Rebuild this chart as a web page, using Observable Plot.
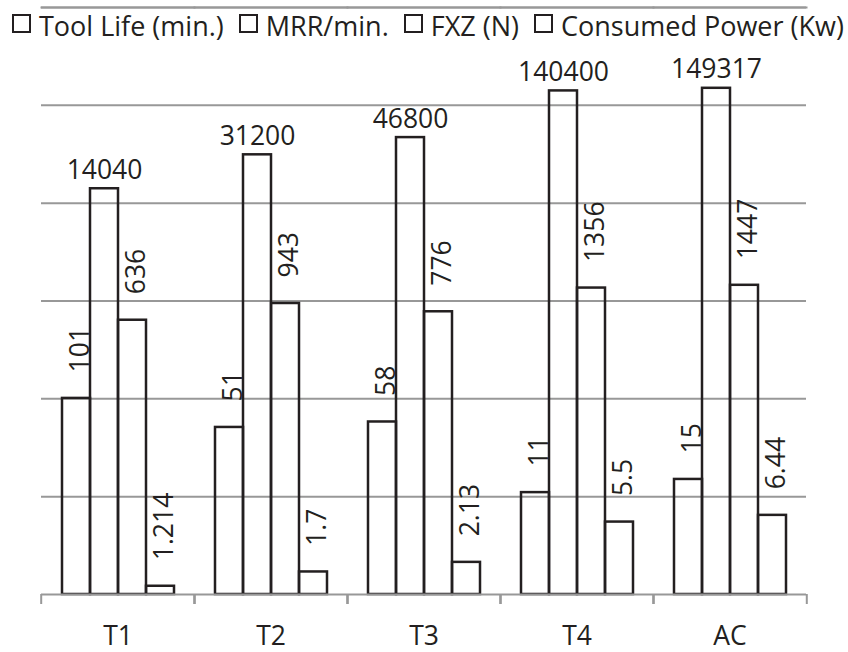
<!DOCTYPE html>
<html>
<head>
<meta charset="utf-8">
<script src="https://cdn.jsdelivr.net/npm/d3@7"></script>
<script src="https://cdn.jsdelivr.net/npm/@observablehq/plot@0.6"></script>
<style>
  html, body { margin: 0; padding: 0; background: #fff; }
  #wrap { position: relative; width: 848px; height: 652px; font-family: "Open Sans", sans-serif; color: #231f20; }
  #legend { position: absolute; left: 12px; top: 12px; display: flex; align-items: flex-start; gap: 15px; font-size: 27px; line-height: 27px; white-space: nowrap; z-index: 3; }
  .item { display: flex; align-items: flex-start; }
  .sw { width: 15px; height: 15px; border: 2.7px solid #231f20; margin-top: 2px; margin-right: 8px; }
  #chart { position: absolute; left: 0; top: 0; z-index: 1; }
</style>
</head>
<body>
<div id="wrap">
  <div id="chart"></div>
  <div id="legend"></div>
</div>
<script>
const categories = ["T1", "T2", "T3", "T4", "AC"];
const seriesNames = ["Tool Life (min.)", "MRR/min.", "FXZ (N)", "Consumed Power (Kw)"];
const toolLife = [101, 51, 58, 11, 15];
const mrr = [14040, 31200, 46800, 140400, 149317];
const fxz = [636, 943, 776, 1356, 1447];
const power = [1.214, 1.7, 2.13, 5.5, 6.44];
const powerLabels = ["1.214", "1.7", "2.13", "5.5", "6.44"];
const gridValues = [10, 100, 1000, 10000, 100000, 1000000];

const seriesValues = [toolLife, mrr, fxz, power];
const rows = [];
categories.forEach((c, i) => {
  seriesNames.forEach((s, j) => {
    const v = seriesValues[j][i];
    rows.push({cat: c, series: s, value: v, label: j === 3 ? powerLabels[i] : String(v)});
  });
});

const legendEl = document.getElementById("legend");
seriesNames.forEach(s => {
  const it = document.createElement("div");
  it.className = "item";
  const sw = document.createElement("div");
  sw.className = "sw";
  const tx = document.createElement("span");
  tx.textContent = s;
  it.appendChild(sw); it.appendChild(tx);
  legendEl.appendChild(it);
});

const W = 848, H = 652, ML = 39, MR = 41, MT = 7, MB = 58;
const bw = (W - ML - MR) / categories.length;
const ink = "#231f20", gray = "#989898";
const fs = 26.5;

const chart = Plot.plot({
  width: W, height: H,
  marginLeft: ML, marginRight: MR, marginTop: MT, marginBottom: MB,
  style: {fontFamily: "Open Sans, sans-serif", fontSize: fs + "px", color: ink},
  fx: {domain: categories, padding: 0, label: null},
  x: {domain: seriesNames, paddingInner: 0, paddingOuter: 0.7, axis: null},
  y: {type: "log", domain: [1, 1000000], axis: null},
  marks: [
    Plot.ruleY(gridValues, {stroke: gray, strokeWidth: 2}),
    Plot.frame({anchor: "top", stroke: gray, strokeWidth: 2}),
    Plot.barY(rows, {fx: "cat", x: "series", y1: 1, y2: "value", fill: "none", stroke: ink, strokeWidth: 2.5}),
    Plot.ruleY([1], {stroke: gray, strokeWidth: 2}),
    Plot.text(rows.filter(d => d.series === "MRR/min."), {fx: "cat", x: "series", y: "value", text: "label", textAnchor: "middle", lineAnchor: "bottom", dy: -10, fontSize: fs, fill: ink}),
    Plot.text(rows.filter(d => d.series !== "MRR/min."), {fx: "cat", x: "series", y: "value", text: "label", rotate: -90, textAnchor: "start", dy: -26, dx: 4, fontSize: fs, fill: ink}),
    Plot.axisFx({anchor: "bottom", tickSize: 0, tickPadding: 32, fontSize: fs, label: null, fill: ink}),
    Plot.axisFx({anchor: "bottom", tickSize: 10, tickFormat: () => "", dx: -bw / 2, stroke: gray, strokeWidth: 2, label: null}),
    Plot.axisFx({anchor: "bottom", tickSize: 10, tickFormat: () => "", dx: bw / 2, stroke: gray, strokeWidth: 2, label: null})
  ]
});
document.getElementById("chart").appendChild(chart);
</script>
</body>
</html>
